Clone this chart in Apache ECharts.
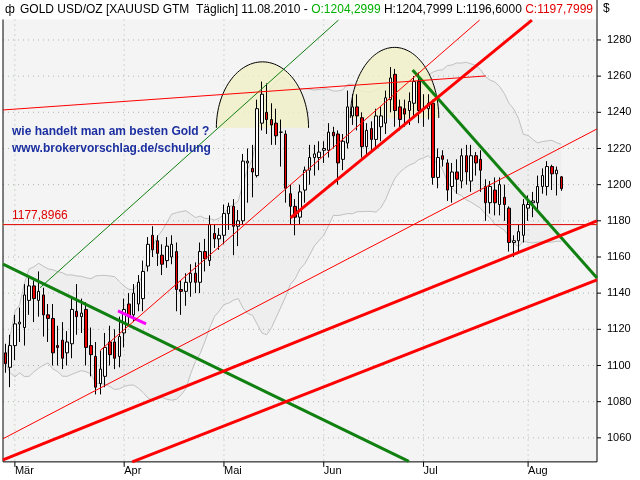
<!DOCTYPE html>
<html><head><meta charset="utf-8">
<script src="https://cdn.jsdelivr.net/npm/echarts@6/dist/echarts.min.js"></script>
<style>html,body{margin:0;padding:0;background:#fff}#c{width:640px;height:480px}</style>
</head><body><div id="c"></div>
<script>
const opens=[1107,1099,1111,1123,1121,1136,1144,1136,1139,1128,1126,1111,1114,1107,1112,1130,1127,1131,1111,1105,1090,1094,1113,1113,1105,1118,1134,1128,1134,1137,1155,
1172,1169,1161,1158,1160,1163,1142,1141,1146,1151,1146,1163,1158,1173,1170,1172,1184,1188,1177,1180,1212,1209,1205,1234,1240,1236,1234,1229,1228,1195,1188,1182,1197,1208,
1215,1215,1219,1219,1229,1228,1214,1223,1238,1243,1237,1221,1231,1225,1232,1234,1247,1261,1243,1242,1241,1245,1257,1242,1242,1245,1204,1216,1212,
1199,1207,1202,1216,1202,1216,1214,1199,1190,1197,1189,1193,1187,1168,1169,1172,1187,1190,1190,1199,1199,1210,1206,1204.2999];
const closes=[1101,1111,1123,1124,1139,1144,1137,1141,1128,1126,1107,1110,1104,1113,1131,1127,1129,1110,1106,1088,1098,1110,1106,1104,1116,1131,1127,1140,1146,1152,1167,
1164,1162,1156,1166,1167,1142,1141,1146,1151,1146,1163,1159,1178,1170,1172,1184,1188,1177,1180,1213,1213,1207,1242,1250,1236,1233,1227,1229,1198,1188,1182,1196,1208,1215,
1217,1218,1220,1229,1227,1212,1224,1243,1243,1238,1221,1230,1225,1238,1238,1248,1259,1241,1236,1239,1246,1257,1241,1242,1245,1204,1215,1214,1197,
1207,1203,1216,1207,1216,1212,1208,1190,1199,1190,1200,1189,1168,1169,1174,1189,1189,1191,1199,1205,1210,1206,1208,1197.7999];
const highs=[1112,1117,1128,1132,1145,1149,1147,1152,1143,1134,1134,1122,1124,1119,1137,1145,1137,1135,1121,1113,1108,1118,1122,1120,1127,1137,1140,1145,1150,1158,1171,
1177,1172,1167,1171,1172,1168,1147,1151,1156,1157,1168,1170,1183,1178,1176,1189,1190,1192,1186,1217,1220,1222,1247,1257,1256,1245,1242,1236,1230,1200,1192,1200,1210,1222,
1222,1224,1224,1234,1232,1230,1228,1252,1250,1250,1240,1234,1235,1242,1243,1252,1265,1264,1247,1247,1251,1260,1262,1250,1250,1247,1220,1219,1214,
1212,1214,1220,1222,1222,1218,1219,1203,1202,1204,1204,1200,1188,1172,1178,1192,1194,1196,1205,1209,1213,1211,1210,1204.7999];
const lows=[1096,1088,1103,1113,1111,1128,1124,1127,1116,1113,1100,1100,1098,1100,1104,1117,1118,1100,1094,1084,1084,1088,1100,1098,1099,1110,1122,1124,1130,1130,1152,
1160,1155,1150,1154,1156,1130,1128,1133,1138,1140,1140,1152,1155,1165,1164,1167,1175,1161,1166,1178,1190,1193,1204,1230,1228,1222,1222,1210,1190,1178,1172,1178,1190,1200,
1205,1208,1212,1215,1220,1200,1208,1220,1233,1230,1215,1217,1218,1220,1224,1228,1240,1232,1230,1232,1233,1238,1234,1232,1236,1200,1198,1210,1191,
1190,1195,1198,1200,1196,1205,1196,1180,1184,1183,1183,1180,1163,1160,1163,1168,1180,1182,1186,1195,1194,1197,1194,1196.6];
const totalSlots=125;
const monthLabels=['Mär','Apr','Mai','Jun','Jul','Aug'];
const monthIdx=[2,25,46,67,88,110];
const yTicks=[1060,1080,1100,1120,1140,1160,1180,1200,1220,1240,1260,1280];
const hLevel=1177.8966;
// trendlines [x1,v1,x2,v2]
const greenThick=[[-0.5,1156],[84.9,1047]];
const greenThin=[[7.3,1143],[70.1,1291]];
const greenDown=[[85.7,1263.4],[124.5,1148.4]];
const magenta=[[23.7,1130.2],[29.6,1123]];
const redFlat=[[-0.5,1241.3],[101.1,1260.1]];
const redSteep=[[19.9,1108.2],[99.8,1291]];
const redMid=[[-0.5,1059.5],[124.5,1230.8]];
const redThick1=[[60,1181.6],[110.8,1291]];
const redThick2=[[-0.5,1047.8],[124.5,1180]];
const redThick3=[[26.7,1046.7],[124.5,1147.3]];
const domes=[[54.1,1231.4,9.7,36.5],[81.9,1236.9,9.3,39]];
const yMinVis=1046.7, yMaxVis=1291.3;

const cats=[];for(let i=0;i<totalSlots;i++)cats.push(String(i));
const candle=opens.map((o,i)=>[o,closes[i],lows[i],highs[i]]);
// Bollinger bands (20, 2)
const up=[],lo=[],diff=[];
closes.forEach((c,i)=>{const w=closes.slice(Math.max(0,i-19),i+1);const m=w.reduce((a,b)=>a+b,0)/w.length;
 const s=Math.sqrt(w.reduce((a,b)=>a+(b-m)*(b-m),0)/w.length);up.push(+(m+2*s).toFixed(1));lo.push(+(m-2*s).toFixed(1));diff.push(+(4*s).toFixed(1));});

function ln(d,color,w,z){return {type:'line',xAxisIndex:1,yAxisIndex:0,data:d,showSymbol:false,symbol:'none',silent:true,z:z||5,
 lineStyle:{color:color,width:w},animation:false};}

const chart=echarts.init(document.getElementById('c'));
chart.setOption({
 animation:false,backgroundColor:'#fff',
 grid:{left:3,right:43,top:3.8,bottom:6},
 xAxis:[{type:'category',data:cats,boundaryGap:true,offset:-12,axisLine:{show:false},axisTick:{show:false},splitLine:{show:false},
   axisLabel:{interval:(i)=>monthIdx.indexOf(i)>=0,formatter:(v,i)=>monthLabels[monthIdx.indexOf(+v)]||'',align:'left',margin:3,
   fontFamily:'Liberation Sans',fontSize:11,color:'#000'}},
  {type:'value',min:-0.5,max:totalSlots-0.5,show:false}],
 yAxis:{type:'value',position:'right',min:1040,max:1300,interval:20,axisLine:{show:false},axisTick:{show:false},splitLine:{show:false},
  axisLabel:{margin:10,fontFamily:'Liberation Sans',fontSize:11,color:'#000',formatter:v=>(v<=1040||v>=1300)?'':v}},
 graphic:[
  {type:'text',left:20,top:4,style:{text:'{b|GOLD USD/OZ [XAUUSD GTM  Täglich] 11.08.2010 - }{g|O:1204,2999}{b| H:1204,7999 L:1196,6000 }{r|C:1197,7999}',
   rich:{b:{fill:'#000',fontFamily:'Liberation Sans',fontSize:12},g:{fill:'#00b000',fontFamily:'Liberation Sans',fontSize:12},r:{fill:'#e00000',fontFamily:'Liberation Sans',fontSize:12}}}},
  {type:'text',left:5,top:4,style:{text:'ф',fill:'#000',font:'12px Liberation Sans'}},
  {type:'text',left:4,top:21,style:{text:'© www.tradesignalonline.com',fill:'#000',font:'12px Liberation Sans'}},
  {type:'text',left:603,top:3,style:{text:'$',fill:'#000',font:'12px Liberation Sans'}},
  {type:'text',left:12,top:126,z:20,style:{text:'wie handelt man am besten Gold ?',fill:'#1c2fa0',font:'bold 12px Liberation Sans'}},
  {type:'text',left:12,top:143,z:20,style:{text:'www.brokervorschlag.de/schulung',fill:'#1c2fa0',font:'bold 12px Liberation Sans'}}
 ],
 series:[
  {type:'custom',xAxisIndex:1,yAxisIndex:0,z:0,silent:true,data:[0],renderItem:(p,api)=>{
    const tl=api.coord([-0.5,yMaxVis]),br=api.coord([totalSlots-0.5,yMinVis]);const ch=[];
    ch.push({type:'rect',shape:{x:tl[0],y:tl[1],width:br[0]-tl[0],height:br[1]-tl[1]},style:{fill:'#f4f4f4'}});
    yTicks.forEach(t=>{const a=api.coord([-0.5,t]),b=api.coord([totalSlots-0.5,t]);
      ch.push({type:'line',shape:{x1:a[0],y1:a[1],x2:b[0],y2:b[1]},style:{stroke:'#aab8a8',lineWidth:1,lineDash:[1,4]}});
      ch.push({type:'line',shape:{x1:b[0],y1:a[1],x2:b[0]+4,y2:a[1]},style:{stroke:'#000',lineWidth:1}});});
    monthIdx.forEach(m=>{const a=api.coord([m,yMaxVis]),b=api.coord([m,yMinVis]);
      ch.push({type:'line',shape:{x1:a[0],y1:a[1],x2:b[0],y2:b[1]},style:{stroke:'#aab8a8',lineWidth:1,lineDash:[1,4]}});
      ch.push({type:'line',shape:{x1:a[0],y1:b[1],x2:a[0],y2:b[1]+5},style:{stroke:'#000',lineWidth:1}});});
    ch.push({type:'polyline',shape:{points:[[tl[0],tl[1]],[tl[0],br[1]],[br[0],br[1]],[br[0],tl[1]-20]]},style:{stroke:'#000',fill:null,lineWidth:1}});
    return {type:'group',children:ch};}},
  {type:'line',data:lo,stack:'bb',symbol:'none',lineStyle:{color:'#c0c0c0',width:1},z:1,silent:true},
  {type:'line',data:diff,stack:'bb',symbol:'none',lineStyle:{width:0},areaStyle:{color:'rgba(0,0,0,0.035)'},z:1,silent:true},
  {type:'line',data:up,symbol:'none',lineStyle:{color:'#c0c0c0',width:1},z:1,silent:true},
  {type:'custom',xAxisIndex:1,yAxisIndex:0,z:2,silent:true,data:domes,renderItem:(p,api)=>{
    const cx=api.value(0),cy=api.value(1),rx=api.value(2),ry=api.value(3);const pts=[];
    for(let k=0;k<=60;k++){const t=Math.PI*k/60;pts.push(api.coord([cx-rx*Math.cos(t),cy+ry*Math.sin(t)]));}
    return {type:'group',children:[{type:'polygon',shape:{points:pts},style:{fill:'rgba(240,238,200,0.85)'}},
      {type:'polyline',shape:{points:pts},style:{stroke:'#000',lineWidth:1,fill:null}}]};}},
  {type:'candlestick',data:candle,barWidth:3,z:3,itemStyle:{color:'#ffffff',color0:'#ee0000',borderColor:'#000',borderColor0:'#000',borderWidth:1}},
  {type:'line',xAxisIndex:1,data:[{value:[-0.5,hLevel],label:{show:true,formatter:'1177,8966',position:[10,-14],color:'#e00000',fontFamily:'Liberation Sans',fontSize:12}},[totalSlots-0.5,hLevel]],
   symbolSize:0.1,showSymbol:true,lineStyle:{color:'#e00000',width:1},z:4,silent:true},
  ln(greenThick,'#108010',3),ln(greenThin,'#108010',1),ln(greenDown,'#108010',3),ln(magenta,'#ff00ff',3),
  ln(redFlat,'#ff0000',1),ln(redSteep,'#ff0000',1),ln(redMid,'#ff0000',1),
  ln(redThick1,'#ff0000',3),ln(redThick2,'#ff0000',3),ln(redThick3,'#ff0000',3)
 ]
});
</script></body></html>
